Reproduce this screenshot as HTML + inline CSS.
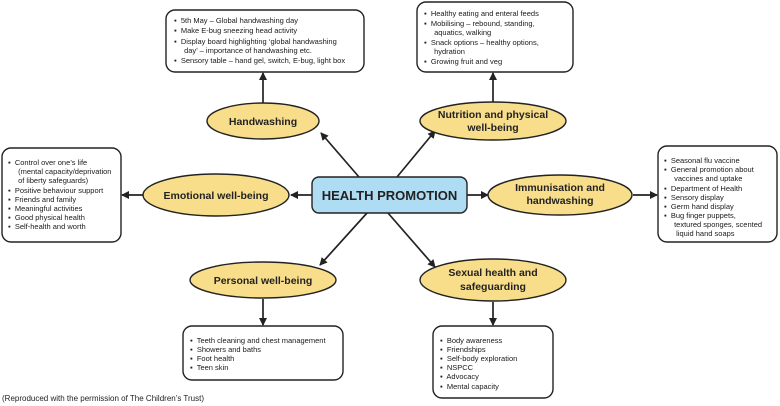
<!DOCTYPE html>
<html><head><meta charset="utf-8"><style>
body{margin:0;background:#fff;}
svg{display:block;font-family:"Liberation Sans",Arial,sans-serif;}
.b{fill:#fff;stroke:#222;stroke-width:1.4;}
.e{fill:#f8de8a;stroke:#222;stroke-width:1.4;}
.l{stroke:#222;stroke-width:1.7;fill:none;}
.t{font-size:7.5px;fill:#1a1a1a;}
.et{font-size:10.5px;font-weight:bold;fill:#222;text-anchor:middle;}
</style></head><body>
<svg width="780" height="406" viewBox="0 0 780 406">
<defs><marker id="a" markerWidth="8" markerHeight="8" refX="7" refY="4" orient="auto" markerUnits="userSpaceOnUse"><path d="M0,0L8,4L0,8z" fill="#222"/></marker></defs>
<line class="l" x1="263" y1="103" x2="263" y2="73" marker-end="url(#a)"/>
<line class="l" x1="493" y1="102" x2="493" y2="73" marker-end="url(#a)"/>
<line class="l" x1="312" y1="195" x2="291" y2="195" marker-end="url(#a)"/>
<line class="l" x1="143" y1="195" x2="122" y2="195" marker-end="url(#a)"/>
<line class="l" x1="467" y1="195" x2="488" y2="195" marker-end="url(#a)"/>
<line class="l" x1="633" y1="195" x2="657" y2="195" marker-end="url(#a)"/>
<line class="l" x1="359" y1="177" x2="321" y2="133" marker-end="url(#a)"/>
<line class="l" x1="397" y1="177" x2="435" y2="131" marker-end="url(#a)"/>
<line class="l" x1="367" y1="213" x2="320" y2="265" marker-end="url(#a)"/>
<line class="l" x1="388" y1="213" x2="435" y2="267" marker-end="url(#a)"/>
<line class="l" x1="263" y1="299" x2="263" y2="325" marker-end="url(#a)"/>
<line class="l" x1="493" y1="302" x2="493" y2="325" marker-end="url(#a)"/>

<rect class="b" x="166" y="10" width="198" height="62" rx="9"/>
<text class="t" x="174" y="23">▪&#160; 5th May – Global handwashing day</text>
<text class="t" x="174" y="33">▪&#160; Make E-bug sneezing head activity</text>
<text class="t" x="174" y="44">▪&#160; Display board highlighting ‘global handwashing</text>
<text class="t" x="182" y="53">&#160;day’ – importance of handwashing etc.</text>
<text class="t" x="174" y="63">▪&#160; Sensory table – hand gel, switch, E-bug, light box</text>

<rect class="b" x="417" y="2" width="156" height="70" rx="9"/>
<text class="t" x="424" y="16">▪&#160; Healthy eating and enteral feeds</text>
<text class="t" x="424" y="26">▪&#160; Mobilising – rebound, standing,</text>
<text class="t" x="432" y="35">&#160;aquatics, walking</text>
<text class="t" x="424" y="45">▪&#160; Snack options – healthy options,</text>
<text class="t" x="432" y="54">&#160;hydration</text>
<text class="t" x="424" y="64">▪&#160; Growing fruit and veg</text>

<rect class="b" x="2" y="148" width="119" height="94" rx="9"/>
<text class="t" x="8" y="165">▪&#160; Control over one’s life</text>
<text class="t" x="16" y="174">&#160;(mental capacity/deprivation</text>
<text class="t" x="16" y="183">&#160;of liberty safeguards)</text>
<text class="t" x="8" y="193">▪&#160; Positive behaviour support</text>
<text class="t" x="8" y="202">▪&#160; Friends and family</text>
<text class="t" x="8" y="211">▪&#160; Meaningful activities</text>
<text class="t" x="8" y="220">▪&#160; Good physical health</text>
<text class="t" x="8" y="229">▪&#160; Self-health and worth</text>

<rect class="b" x="658" y="146" width="119" height="96" rx="9"/>
<text class="t" x="664" y="163">▪&#160; Seasonal flu vaccine</text>
<text class="t" x="664" y="172">▪&#160; General promotion about</text>
<text class="t" x="672" y="181">&#160;vaccines and uptake</text>
<text class="t" x="664" y="191">▪&#160; Department of Health</text>
<text class="t" x="664" y="200">▪&#160; Sensory display</text>
<text class="t" x="664" y="209">▪&#160; Germ hand display</text>
<text class="t" x="664" y="218">▪&#160; Bug finger puppets,</text>
<text class="t" x="672" y="227">&#160;textured sponges, scented</text>
<text class="t" x="672" y="236">&#160; liquid hand soaps</text>

<rect class="b" x="183" y="326" width="160" height="54" rx="9"/>
<text class="t" x="190" y="343">▪&#160; Teeth cleaning and chest management</text>
<text class="t" x="190" y="352">▪&#160; Showers and baths</text>
<text class="t" x="190" y="361">▪&#160; Foot health</text>
<text class="t" x="190" y="370">▪&#160; Teen skin</text>

<rect class="b" x="433" y="326" width="120" height="72" rx="9"/>
<text class="t" x="440" y="343">▪&#160; Body awareness</text>
<text class="t" x="440" y="352">▪&#160; Friendships</text>
<text class="t" x="440" y="361">▪&#160; Self-body exploration</text>
<text class="t" x="440" y="370">▪&#160; NSPCC</text>
<text class="t" x="440" y="379">▪&#160; Advocacy</text>
<text class="t" x="440" y="389">▪&#160; Mental capacity</text>

<ellipse class="e" cx="263" cy="121" rx="56" ry="18"/>
<text class="et" x="263" y="125">Handwashing</text>
<ellipse class="e" cx="493" cy="121" rx="73" ry="19"/>
<text class="et" x="493" y="118">Nutrition and physical</text>
<text class="et" x="493" y="131">well-being</text>
<ellipse class="e" cx="216" cy="195" rx="73" ry="21"/>
<text class="et" x="216" y="199">Emotional well-being</text>
<ellipse class="e" cx="560" cy="195" rx="72" ry="20"/>
<text class="et" x="560" y="191">Immunisation and</text>
<text class="et" x="560" y="204">handwashing</text>
<ellipse class="e" cx="263" cy="280" rx="73" ry="18"/>
<text class="et" x="263" y="284">Personal well-being</text>
<ellipse class="e" cx="493" cy="280" rx="73" ry="21"/>
<text class="et" x="493" y="276">Sexual health and</text>
<text class="et" x="493" y="290">safeguarding</text>

<rect x="312" y="177" width="155" height="36" rx="7" fill="#aedcf3" stroke="#222" stroke-width="1.4"/>
<text x="389.5" y="200" text-anchor="middle" font-size="13" font-weight="bold" fill="#222">HEALTH PROMOTION</text>

<text x="2" y="401" font-size="8" fill="#222">(Reproduced with the permission of The Children’s Trust)</text>
</svg>
</body></html>
